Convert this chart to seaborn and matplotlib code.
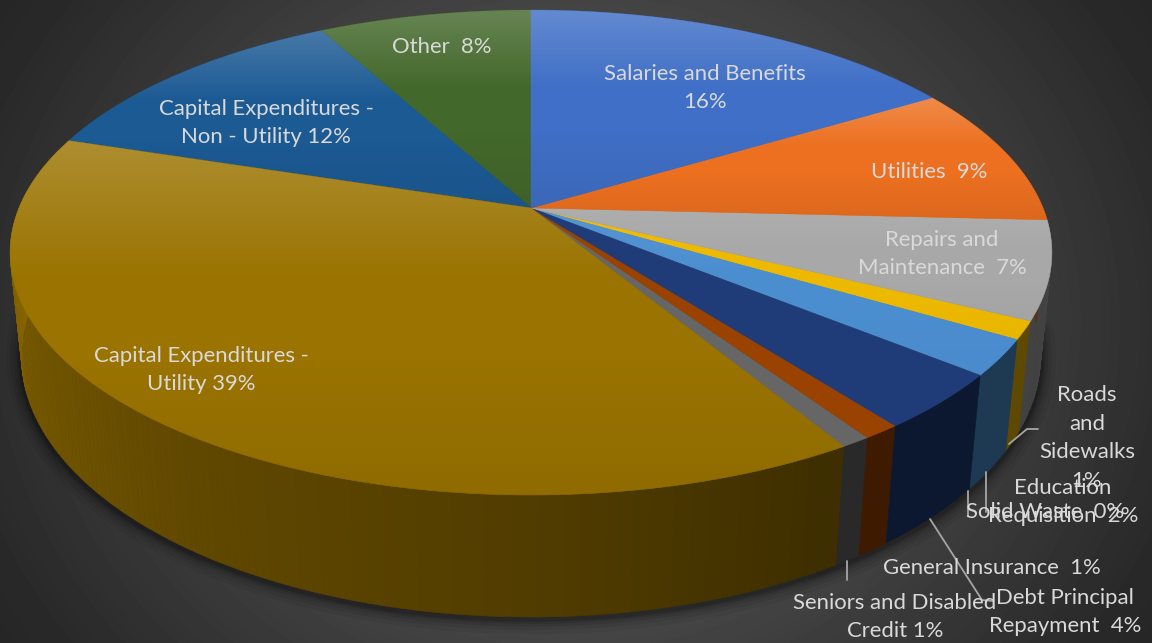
import numpy as np
import matplotlib
matplotlib.use("Agg")
import matplotlib.pyplot as plt
from matplotlib.patches import Polygon
import seaborn as sns

# Budget shares, clockwise from twelve o'clock
categories = ["Salaries and Benefits", "Utilities", "Repairs and Maintenance",
              "Roads and Sidewalks", "Education Requisition", "Solid Waste",
              "Debt Principal Repayment", "General Insurance",
              "Seniors and Disabled Credit", "Capital Expenditures - Utility",
              "Capital Expenditures - Non - Utility", "Other"]
shares = [16.4, 9.4, 6.51, 1.2, 2.35, 0.02, 3.73, 1.0, 0.8, 38.51, 12.2, 7.9]
slice_colors = ["#3F6FC6", "#EC7020", "#A8A8A8", "#EDB900", "#4B8ED0", "#70AD47",
                "#1F3C78", "#9A4300", "#666666", "#9A7300", "#1C5A94", "#43682B"]

# Text of each data label; {} takes the rounded share
label_templates = ["Salaries and Benefits\n{}", "Utilities  {}", "Repairs and\nMaintenance  {}",
                   "Roads\nand\nSidewalks\n{}", "Education\nRequisition  {}", "Solid Waste  {}",
                   "Debt Principal\nRepayment  {}", "General Insurance  {}",
                   "Seniors and Disabled\nCredit {}", "Capital Expenditures -\nUtility {}",
                   "Capital Expenditures -\nNon - Utility {}", "Other  {}"]

sns.set_theme(style="dark")
plt.rcParams["font.family"] = ["Lato", "DejaVu Sans"]
palette = sns.color_palette(slice_colors)

W, H = 1152, 643
fig = plt.figure(figsize=(W / 100, H / 100), dpi=100)
ax = fig.add_axes([0, 0, 1, 1])
ax.axis("off")

# Dark radial backdrop
yy, xx = np.mgrid[0:H, 0:W]
rr = np.hypot(xx - W / 2, (yy - H / 2) * 1.15)
shade = np.interp(rr, [0, 330, 620, 720], [0.30, 0.28, 0.165, 0.14])
ax.imshow(shade, cmap="gray", vmin=0, vmax=1, extent=(0, W, H, 0), aspect="auto",
          interpolation="bilinear", zorder=0)

# Perspective disc: apex position, scale and tilt
CX, CY, SX, SY, TILT = 531.0, 208.0, 512.0, 234.3, 0.1835
VANISH_Y, DEPTH_NEAR, DEPTH_SLOPE = 5100.0, 122.0, 0.0707


def top_rim(angle_deg):
    """Point on the upper rim for a clockwise angle from twelve o'clock."""
    a = np.radians(angle_deg)
    x, y = np.sin(a), np.cos(a)
    d = 1 + TILT * y
    return CX + SX * x / d, CY - SY * y / d


def bottom_rim(angle_deg):
    """Matching point on the lower rim of the slab."""
    x, y = top_rim(angle_deg)
    depth = DEPTH_NEAR - DEPTH_SLOPE * (495 - y)
    return CX + (x - CX) * (1 - depth / (VANISH_Y - y)), y + depth


def side_factor(angle_deg):
    return np.interp(angle_deg, [90, 150, 180, 215, 250, 275], [0.40, 0.40, 0.53, 0.63, 0.78, 0.92])


fractions = np.array(shares) / sum(shares)
edges = np.concatenate([[0], np.cumsum(fractions) * 360])
# Narrowest slices go down first so their neighbours settle over them
draw_order = np.argsort(shares)

# Soft shadow hugging the lower silhouette
arc = np.linspace(95, 275, 240)
bx, by = bottom_rim(arc)
for lw, alpha in [(22, 0.05), (16, 0.07), (11, 0.09), (7, 0.12), (4, 0.16)]:
    ax.plot(bx, by + 2, color="black", lw=lw, alpha=alpha, solid_capstyle="round", zorder=1)

# Side wall, built from narrow strips so the shading runs round the rim
for i in draw_order:
    start, stop, color = edges[i], edges[i + 1], palette[i]
    lo, hi = max(start, 85), min(stop, 285)
    if hi <= lo:
        continue
    steps = np.linspace(lo, hi, max(2, int((hi - lo) / 0.8) + 2))
    for a0, a1 in zip(steps[:-1], steps[1:]):
        f = side_factor((a0 + a1) / 2)
        rgb = tuple(c * f for c in color)
        ax.add_patch(Polygon([top_rim(a0), top_rim(a1), bottom_rim(a1), bottom_rim(a0)],
                             closed=True, fc=rgb, ec=rgb, lw=0.4, zorder=2))

# Top face: slices reaching above the apex carry a pale sheen at their upper end
for i in draw_order:
    start, stop, color = edges[i], edges[i + 1], palette[i]
    steps = np.linspace(start, stop, max(2, int(stop - start) * 2 + 2))
    rx, ry = top_rim(steps)
    pts = np.column_stack([np.r_[CX, rx], np.r_[CY, ry]])
    ax.add_patch(Polygon(pts, closed=True, fc=color, ec=color, lw=0.4, zorder=3))
    y_top, y_bot = pts[:, 1].min(), pts[:, 1].max()
    if y_top >= CY - 1 and stop > 130:
        continue
    strength = 1.0 if y_top < CY - 1 else 0.35
    rows = np.linspace(0, 1, 128)
    lift = np.interp(rows, [0, 0.4, 0.6, 1], [0.19, 0.0, 0.0, -0.07]) * strength
    sheen = np.ones((128, 2, 4))
    sheen[..., :3] = (lift >= 0)[:, None, None].astype(float) * np.ones((128, 2, 3))
    sheen[..., 3] = np.abs(lift)[:, None]
    img = ax.imshow(sheen, extent=(pts[:, 0].min(), pts[:, 0].max(), y_bot, y_top), aspect="auto",
                    zorder=3.5, interpolation="bilinear")
    img.set_clip_path(Polygon(pts, closed=True, transform=ax.transData, fc="none", ec="none"))

# Leader lines
LEADER = "#A6A6A6"
leaders = [[(1009, 444), (1027, 429), (1038, 429)],
           [(986, 472), (986, 512)],
           [(968, 491), (968, 516)],
           [(930, 519), (982, 600), (993, 601)],
           [(847, 561), (847, 580)]]
for path in leaders:
    ax.plot(*zip(*path), color=LEADER, lw=1.3, zorder=5)

# Data labels
label_xy = [(705, 88), (929, 172), (942, 254), (1087, 438), (1063, 502), (1045, 512),
            (1065, 612), (992, 568), (895, 617), (201, 370), (266, 123), (442, 47)]
for template, share, (lx, ly) in zip(label_templates, shares, label_xy):
    ax.text(lx, ly, template.format(f"{share:.0f}%"), ha="center", va="center", color="#D9D9D9",
            fontsize=15.9, linespacing=1.56, zorder=6)

ax.set_xlim(0, W)
ax.set_ylim(H, 0)
fig.savefig("out.png", dpi=100)
